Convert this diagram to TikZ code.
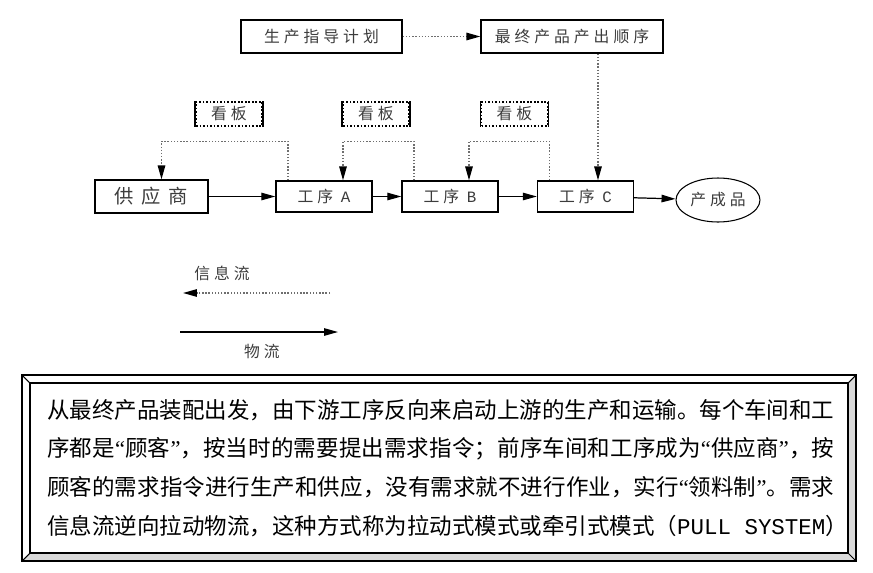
\documentclass[tikz,border=0pt]{standalone}
\usepackage{fontspec}
\setmainfont{Noto Sans CJK SC}
\setmonofont{Liberation Mono}
\newfontfamily\cjkwide[LetterSpace=40]{Noto Sans CJK SC}
\newfontfamily\cjkmid[LetterSpace=25]{Noto Sans CJK SC}
\newfontfamily\qfont{Liberation Serif}
\usetikzlibrary{arrows.meta,positioning,calc,shapes.geometric}
\definecolor{labelgray}{RGB}{60,60,60}
\definecolor{dotgray}{RGB}{110,110,110}
\newcommand\cnlq{{\qfont “}}
\newcommand\cnrq{{\qfont ”}}
\def\sptok#1{\ifx#1\relax\else#1\hskip 0pt plus 1fil\expandafter\sptok\fi}
\newcommand\spreadline[1]{\makebox[15.74cm][s]{\sptok#1\relax\unskip}}

\begin{document}
\begin{tikzpicture}[x=0.02cm, y=-0.02cm,
    box/.style={draw, line width=0.8pt, inner sep=0pt, text=labelgray, font=\cjkmid\fontsize{9}{11}\selectfont},
    kanban/.style={draw, densely dotted, line width=1pt, inner sep=0pt, minimum width=1.32cm, minimum height=0.48cm, text=labelgray, font=\cjkmid\fontsize{9}{11}\selectfont},
    flow/.style={-{Triangle[length=2.8mm, width=1.5mm]}, line width=0.7pt},
    info/.style={-{Triangle[length=2.8mm, width=1.5mm, black]}, densely dotted, line width=0.8pt, draw=dotgray},
    legend/.style={text=labelgray, font=\cjkmid\fontsize{9}{11}\selectfont}
]
\useasboundingbox (0,0) rectangle (873,572);

% Plan
\node[box, minimum width=3.22cm, minimum height=0.66cm] (plan) at (321.5,36.5) {生产指导计划};
\node[box, minimum width=3.64cm, minimum height=0.66cm] (order) at (572,36.5) {最终产品产出顺序};

% Kanban
\node[kanban] (kb1) at (229,114) {看板};
\node[kanban] (kb2) at (376,114) {看板};
\node[kanban] (kb3) at (514.5,114) {看板};
\foreach \k in {kb1,kb2,kb3}
  \draw[line width=0.8pt] (\k.north west) -- (\k.south west) (\k.north east) -- (\k.south east);

% Process line
\node[box, minimum width=2.26cm, minimum height=0.66cm, font=\cjkwide\fontsize{11}{13}\selectfont] (sup) at (151.5,196.5) {供应商};
\node[box, minimum width=1.92cm, minimum height=0.62cm] (pA) at (324,196.5) {工序 {\ttfamily A}};
\node[box, minimum width=1.92cm, minimum height=0.62cm] (pB) at (450,196.5) {工序 {\ttfamily B}};
\node[box, minimum width=1.92cm, minimum height=0.62cm] (pC) at (585.5,196.5) {工序 {\ttfamily C}};
\node[box, ellipse, line width=0.6pt, minimum width=1.68cm, minimum height=0.88cm] (prod) at (718,200) {产成品};

% Material
\draw[flow] (sup) -- (pA);
\draw[flow] (pA) -- (pB);
\draw[flow] (pB) -- (pC);
\draw[flow] (pC) -- (prod);

% Information
\coordinate (cC) at (598,0);
\draw[info] (plan) -- (order);
\draw[info] (order.south -| cC) -- (pC.north -| cC);
\draw[info] ([xshift=-0.72cm]pA.north) -- ++(0,-39) -| ([xshift=0.2cm]sup.north);
\draw[info] ([xshift=-0.72cm]pB.north) -- ++(0,-39) -| ([xshift=0.38cm]pA.north);
\draw[info] ([xshift=-0.72cm]pC.north) -- ++(0,-39) -| ([xshift=0.38cm]pB.north);

% Legend
\node[legend] (infotxt) at (222,273) {信息流};
\coordinate (i0) at (330,293);
\coordinate (i1) at (183,293);
\draw[info] (i0) -- (i1);
\coordinate (m0) at (180,332);
\coordinate (m1) at (338,332);
\draw[flow] (m0) -- (m1);
\node[legend] (mattxt) at (262,351) {物流};

% Note frame
\fill[gray!30] (856,375) -- (856,561) -- (22,561) -- (30,553) -- (848,553) -- (848,383) -- cycle;
\draw[line width=0.9pt] (22,375) rectangle (856,561);
\draw[line width=1.3pt] (30,383) rectangle (848,553);
\draw[line width=0.6pt] (22,375) -- (30,383) (856,375) -- (848,383) (22,561) -- (30,553) (856,561) -- (848,553);
\node[anchor=west, align=left, inner sep=0pt, font=\fontsize{12.8}{22.1}\selectfont] (note) at (47,468)
  {\spreadline{从最终产品装配出发，由下游工序反向来启动上游的生产和运输。每个车间和工}\\
   \spreadline{序都是\cnlq 顾客\cnrq ，按当时的需要提出需求指令；前序车间和工序成为\cnlq 供应商\cnrq ，按}\\
   \spreadline{顾客的需求指令进行生产和供应，没有需求就不进行作业，实行\cnlq 领料制\cnrq 。需求}\\
   信息流逆向拉动物流，这种方式称为拉动式模式或牵引式模式（{\ttfamily PULL SYSTEM}）};

\end{tikzpicture}
\end{document}
